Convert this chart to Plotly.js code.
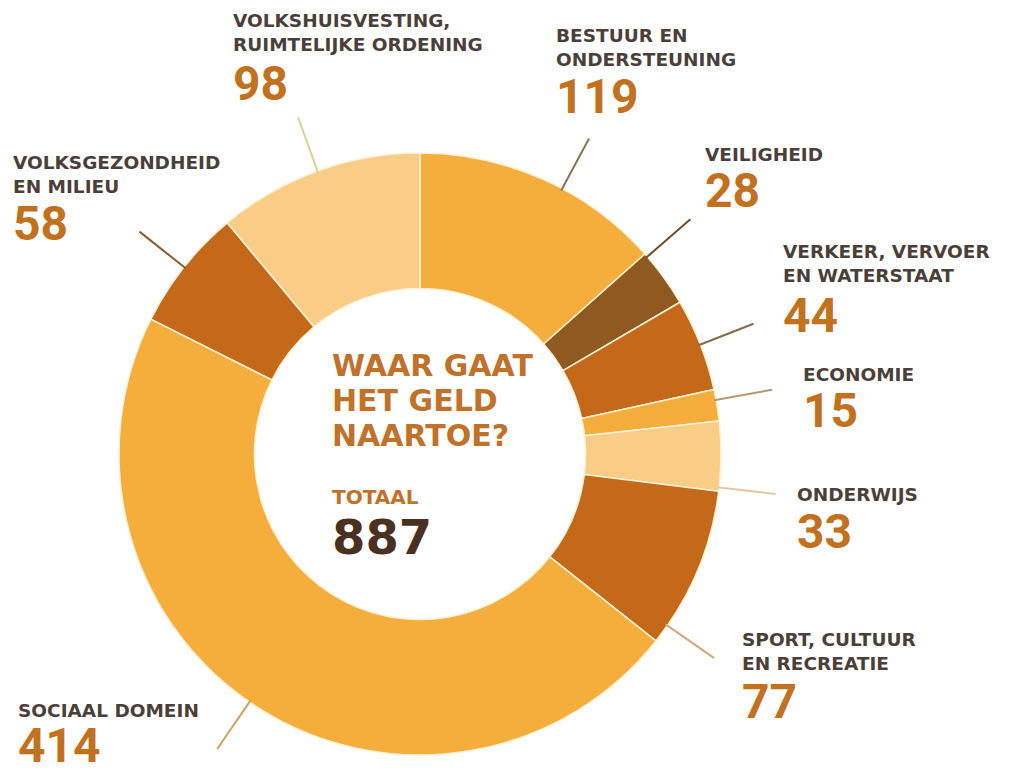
<!DOCTYPE html>
<html>
<head>
<meta charset="utf-8">
<script src="https://cdn.plot.ly/plotly-3.0.1.min.js"></script>
<style>html,body{margin:0;padding:0;background:#fff;}#chart{width:1015px;height:775px;}</style>
</head>
<body>
<div id="chart"></div>
<script>
// ---- data ----
const categories = ['BESTUUR EN ONDERSTEUNING', 'VEILIGHEID', 'VERKEER, VERVOER EN WATERSTAAT', 'ECONOMIE', 'ONDERWIJS', 'SPORT, CULTUUR EN RECREATIE', 'SOCIAAL DOMEIN', 'VOLKSGEZONDHEID EN MILIEU', 'VOLKSHUISVESTING, RUIMTELIJKE ORDENING'];
const labelLines = [['BESTUUR EN', 'ONDERSTEUNING'], ['VEILIGHEID'], ['VERKEER, VERVOER', 'EN WATERSTAAT'], ['ECONOMIE'], ['ONDERWIJS'], ['SPORT, CULTUUR', 'EN RECREATIE'], ['SOCIAAL DOMEIN'], ['VOLKSGEZONDHEID', 'EN MILIEU'], ['VOLKSHUISVESTING,', 'RUIMTELIJKE ORDENING']];
const values = [119, 28, 44, 15, 33, 77, 414, 58, 98];
const centerTitle = ['WAAR GAAT', 'HET GELD', 'NAARTOE?'];
const totalLabel = 'TOTAAL';
const totalValue = 887;

// ---- styles / layout ----
const W = 1015, H = 775;
const CX = 420, CY = 454, R = 301;
const sliceColors = ['#F5AE3B', '#8E5A1F', '#C4691A', '#F5AE3B', '#F9CD86', '#C4691A', '#F5AE3B', '#C4691A', '#F9CD86'];
const leaderColors = ['#8A7650', '#6E4E2A', '#8A6A48', '#B89870', '#E0CBA2', '#D4A77A', '#C9A466', '#8A5C30', '#E2CF96'];
const angleOffsets = [4, -5, 0, -1, 6, 12, 2, 0, 0];
// label placement (x left, cap top of name, cap top of value) in px
const labelPos = [
  [556, 28, 78], [705, 147, 172], [783, 244, 297], [803, 367, 392], [797, 487, 513],
  [742, 632, 683], [18, 703, 727], [13, 155, 205], [233, 13, 65]
];
const nameColor = '#4B4039', valueColor = '#C2711F';
const LABEL_FONT = 'DejaVu Sans', NUM_FONT = 'Roboto';

const px2x = p => p / W;
const px2y = p => 1 - p / H;

const annotations = [];
function addText(text, xLeft, capTop, size, family, color, ascOff) {
  annotations.push({
    text: text, xref: 'paper', yref: 'paper', xanchor: 'left', yanchor: 'top',
    x: px2x(xLeft - 2), y: px2y(capTop - 1 - ascOff * size),
    showarrow: false, align: 'left', borderpad: 1,
    font: {family: family, size: size, color: color, weight: 'bold'}
  });
}

const shapes = [];
const sum = values.reduce((a, b) => a + b, 0);
let cum = 0;
values.forEach((v, i) => {
  const mid = (cum + v / 2) / sum * 360 + angleOffsets[i];
  cum += v;
  const a = mid * Math.PI / 180;
  const r0 = R - 2, r1 = R + 57;
  shapes.push({
    type: 'line', xref: 'paper', yref: 'paper',
    x0: px2x(CX + r0 * Math.sin(a)), y0: px2y(CY - r0 * Math.cos(a)),
    x1: px2x(CX + r1 * Math.sin(a)), y1: px2y(CY - r1 * Math.cos(a)),
    line: {color: leaderColors[i], width: 2}
  });
  const [lx, nTop, vTop] = labelPos[i];
  labelLines[i].forEach((ln, k) => addText(ln, lx, nTop + k * 24, 18.5, LABEL_FONT, nameColor, 0.2));
  addText(String(v), lx, vTop, 48, NUM_FONT, valueColor, 0.22);
});

centerTitle.forEach((ln, k) => addText(ln, 332, 353 + k * 35, 30, LABEL_FONT, '#C0722A', 0.2));
addText(totalLabel, 332, 488, 20, LABEL_FONT, '#C0722A', 0.2);
addText(String(totalValue), 332, 518, 48, LABEL_FONT, '#4A3020', 0.2);

const trace = {
  type: 'pie', values: values, labels: categories,
  sort: false, direction: 'clockwise', rotation: 0, hole: 0.55,
  textinfo: 'none', hoverinfo: 'label+value',
  marker: {colors: sliceColors, line: {color: '#FFF1D6', width: 1.5}},
  domain: {x: [px2x(CX - R), px2x(CX + R)], y: [px2y(CY + R), px2y(CY - R)]},
  showlegend: false
};

Plotly.newPlot('chart', [trace], {
  width: W, height: H, margin: {l: 0, r: 0, t: 0, b: 0},
  paper_bgcolor: '#ffffff', plot_bgcolor: '#ffffff',
  showlegend: false, annotations: annotations, shapes: shapes
}, {displayModeBar: false, staticPlot: true});
</script>
</body>
</html>
